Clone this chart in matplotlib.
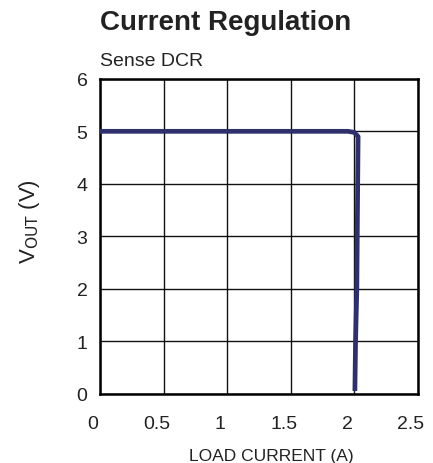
import matplotlib.pyplot as plt
from matplotlib.transforms import ScaledTranslation

plt.rcParams['font.family'] = ['Liberation Sans', 'DejaVu Sans']

# Output voltage vs load current
load_current = [0.0, 0.5, 1.0, 1.5, 1.95, 2.0, 2.03, 2.025, 2.02, 2.01, 2.005]
vout = [5.0, 5.0, 5.0, 5.0, 5.0, 4.98, 4.9, 3.5, 2.0, 1.0, 0.1]

x_ticks = [0, 0.5, 1, 1.5, 2, 2.5]
x_tick_labels = ['0', '0.5', '1', '1.5', '2', '2.5']
y_ticks = [0, 1, 2, 3, 4, 5, 6]

fig = plt.figure(figsize=(4.33, 4.64), dpi=100)
ax = fig.add_axes([0.231, 0.149, 0.734, 0.679])

ax.plot(load_current, vout, color='#2e2f6b', linewidth=3.4, solid_joinstyle='round', zorder=3)

ax.set_xlim(0, 2.5)
ax.set_ylim(0, 6)
ax.set_xticks(x_ticks)
ax.set_xticklabels(x_tick_labels)
ax.set_yticks(y_ticks)
ax.grid(True, color='#111111', linewidth=1.0)
ax.tick_params(length=0, labelsize=14, labelcolor='#222222')
ax.tick_params(axis='x', pad=15)
ax.tick_params(axis='y', pad=9)
for s in ax.spines.values():
    s.set_linewidth(1.8)

# tick labels in the reference sit a little left of the grid lines
shift = ScaledTranslation(-7 / 100, 0, fig.dpi_scale_trans)
for lbl in ax.get_xticklabels():
    lbl.set_transform(lbl.get_transform() + shift)

fig.text(0.626, 0.017, 'LOAD CURRENT (A)', fontsize=12.5, ha='center', va='center', color='#222222')
fig.text(0.069, 0.522, r'V$_{\mathrm{OUT}}$ (V)', fontsize=16, rotation=90,
         ha='center', va='center', color='#222222')

fig.text(0.231, 0.950, 'Current Regulation', fontsize=20, fontweight='bold', va='center', color='#222222')
fig.text(0.231, 0.868, 'Sense DCR', fontsize=14, va='center', color='#222222')

fig.savefig('out.png', dpi=100)
